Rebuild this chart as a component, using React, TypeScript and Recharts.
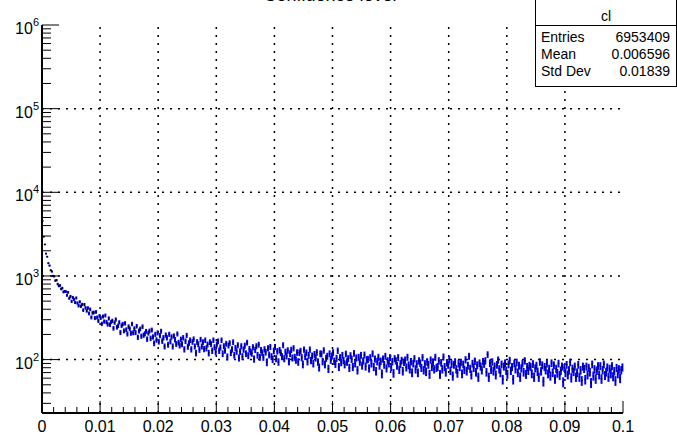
import { ScatterChart, Scatter, XAxis, YAxis, ErrorBar, ReferenceLine } from 'recharts';

const BIN_WIDTH = 0.0002;

// counts per bin (bins of 0.0002 from 0 to 0.1)
const counts = [
  4550, 2950, 2380, 1850, 1700, 1420, 1330, 1170, 1130, 1000,
  990, 880, 890, 800, 760, 770, 700, 715, 645, 655,
  651, 587, 637, 541, 571, 497, 554, 525, 483, 546,
  475, 441, 491, 435, 456, 391, 455, 416, 383, 414,
  357, 399, 320, 363, 366, 314, 372, 319, 291, 332,
  315, 268, 328, 285, 337, 282, 264, 311, 262, 282,
  291, 237, 277, 302, 244, 254, 279, 211, 255, 266,
  221, 272, 228, 203, 248, 234, 207, 267, 210, 235,
  211, 251, 185, 220, 233, 191, 248, 196, 204, 218,
  176, 208, 220, 180, 226, 187, 157, 201, 172, 209,
  164, 194, 219, 167, 183, 144, 197, 183, 151, 201,
  165, 187, 144, 192, 173, 154, 203, 160, 148, 175,
  153, 183, 133, 166, 195, 143, 158, 171, 133, 163,
  176, 144, 120, 163, 153, 132, 174, 144, 162, 134,
  171, 137, 152, 120, 162, 154, 128, 171, 141, 124,
  153, 166, 128, 140, 171, 118, 145, 129, 155, 108,
  148, 158, 121, 133, 162, 113, 138, 125, 149, 105,
  125, 145, 109, 132, 147, 118, 160, 112, 134, 124,
  119, 141, 102, 131, 145, 113, 151, 107, 130, 121,
  107, 133, 123, 93, 137, 114, 142, 109, 101, 127,
  142, 103, 126, 94, 130, 121, 109, 149, 103, 124,
  111, 129, 95, 118, 131, 105, 137, 107, 99, 122,
  94, 121, 127, 106, 88, 132, 109, 121, 95, 113,
  132, 98, 111, 90, 116, 105, 122, 94, 81, 118,
  117, 95, 129, 88, 104, 110, 78, 118, 99, 111,
  122, 96, 89, 104, 128, 82, 106, 93, 113, 98,
  88, 117, 94, 103, 80, 112, 101, 82, 119, 90,
  105, 75, 107, 94, 113, 85, 97, 114, 83, 100,
  101, 79, 106, 90, 118, 82, 102, 73, 95, 107,
  85, 96, 68, 102, 87, 110, 79, 97, 90, 106,
  82, 95, 69, 103, 97, 85, 106, 76, 89, 98,
  73, 93, 99, 81, 107, 86, 77, 95, 70, 90,
  103, 77, 89, 70, 97, 91, 80, 106, 75, 89,
  72, 94, 87, 67, 99, 82, 94, 77, 107, 80,
  82, 97, 67, 92, 77, 108, 82, 71, 92, 87,
  101, 74, 89, 64, 87, 94, 77, 69, 90, 82,
  93, 68, 88, 76, 100, 73, 85, 110, 78, 66,
  90, 80, 96, 71, 86, 62, 91, 83, 75, 95,
  89, 97, 71, 115, 62, 91, 76, 94, 73, 83,
  66, 87, 99, 77, 70, 88, 58, 83, 91, 74,
  67, 88, 98, 74, 82, 58, 90, 77, 93, 70,
  85, 62, 79, 90, 71, 97, 67, 82, 74, 85,
  82, 68, 89, 62, 79, 85, 72, 62, 94, 73,
  86, 55, 82, 75, 90, 68, 78, 64, 91, 70,
  86, 59, 78, 69, 90, 65, 74, 83, 54, 80,
  70, 87, 66, 75, 93, 61, 78, 72, 83, 62,
  70, 87, 62, 75, 56, 83, 78, 58, 83, 66,
  80, 71, 53, 88, 64, 77, 59, 74, 84, 66,
  84, 59, 75, 88, 65, 71, 81, 62, 78, 68,
  84, 63, 73, 56, 80, 68, 77, 60, 75, 81,
];

const xMajorTicks = [0, 0.01, 0.02, 0.03, 0.04, 0.05, 0.06, 0.07, 0.08, 0.09, 0.1];
const xTickLabels = ['0', '0.01', '0.02', '0.03', '0.04', '0.05', '0.06', '0.07', '0.08', '0.09', '0.1'];
const yDecades = [100, 1000, 10000, 100000, 1000000];
const Y_MIN = 23;
const Y_MAX = 1000000;

const statsTitle = 'cl';
const statsRows = [
  ['Entries', '6953409'],
  ['Mean', '0.006596'],
  ['Std Dev', '0.01839'],
];
const title = 'Confidence level';

const FONT = '"Liberation Sans", Arial, Helvetica, sans-serif';

const points = counts.map((c, i) => ({ x: (i + 0.5) * BIN_WIDTH, y: c, err: Math.sqrt(c) }));

const xAllTicks: number[] = [];
for (let i = 0; i <= 50; i++) xAllTicks.push(Math.round(i * 2) / 1000);

const yAllTicks: number[] = [];
[10, 100, 1000, 10000, 100000].forEach((d) => {
  for (let k = 1; k <= 9; k++) {
    const v = k * d;
    if (v >= Y_MIN && v <= Y_MAX) yAllTicks.push(v);
  }
});
yAllTicks.push(Y_MAX);

const isXMajor = (v: number) => xMajorTicks.some((t) => Math.abs(t - v) < 1e-9);
const isYMajor = (v: number) => yDecades.includes(v);

const BottomTick = (props: any) => {
  const { x, y, payload } = props;
  const v = payload.value;
  const major = isXMajor(v);
  const idx = xMajorTicks.findIndex((t) => Math.abs(t - v) < 1e-9);
  return (
    <g>
      <line x1={x} y1={y} x2={x} y2={y - (major ? 12 : 6)} stroke="#000" strokeWidth={1} />
      {major && (
        <text x={x} y={y + 19} textAnchor="middle" fontSize={16} fontFamily={FONT} fill="#000">
          {xTickLabels[idx]}
        </text>
      )}
    </g>
  );
};

const TopTick = (props: any) => {
  const { x, y, payload } = props;
  const major = isXMajor(payload.value);
  return <line x1={x} y1={y} x2={x} y2={y + (major ? 12 : 6)} stroke="#000" strokeWidth={1} />;
};

const LeftTick = (props: any) => {
  const { x, y, payload } = props;
  const v = payload.value;
  const major = isYMajor(v);
  return (
    <g>
      <line x1={x} y1={y} x2={x + (major ? 17 : 9)} y2={y} stroke="#000" strokeWidth={1} />
      {major && (
        <text x={x - 3} y={y + 9} textAnchor="end" fontSize={16} fontFamily={FONT} fill="#000">
          10
          <tspan dy={-8} fontSize={11}>
            {Math.round(Math.log10(v))}
          </tspan>
        </text>
      )}
    </g>
  );
};

const RightTick = (props: any) => {
  const { x, y, payload } = props;
  const major = isYMajor(payload.value);
  return <line x1={x} y1={y} x2={x - (major ? 17 : 9)} y2={y} stroke="#000" strokeWidth={1} />;
};

const Marker = (props: any) => {
  const { cx, cy } = props;
  return <rect x={cx - 0.75} y={cy - 0.75} width={1.5} height={1.5} fill="#000" />;
};

const axisLine = { stroke: '#000', strokeWidth: 2 };

export default function App() {
  return (
    <div style={{ position: 'absolute', left: 0, top: 0, width: 677, height: 435, overflow: 'hidden', background: '#fff' }}>
      <ScatterChart width={677} height={435} margin={{ top: 25, right: 54, bottom: 0, left: 0 }}>
        <XAxis
          xAxisId={0}
          dataKey="x"
          type="number"
          domain={[0, 0.1]}
          allowDataOverflow
          ticks={xAllTicks}
          interval={0}
          tick={<BottomTick />}
          tickLine={false}
          tickSize={0}
          tickMargin={0}
          height={22}
          axisLine={axisLine}
        />
        <XAxis
          xAxisId="top"
          orientation="top"
          type="number"
          domain={[0, 0.1]}
          allowDataOverflow
          ticks={xAllTicks}
          interval={0}
          tick={<TopTick />}
          tickLine={false}
          tickSize={0}
          tickMargin={0}
          height={0}
          axisLine={axisLine}
        />
        <YAxis
          yAxisId={0}
          dataKey="y"
          type="number"
          scale="log"
          domain={[Y_MIN, Y_MAX]}
          allowDataOverflow
          ticks={yAllTicks}
          interval={0}
          tick={<LeftTick />}
          tickLine={false}
          tickSize={0}
          tickMargin={0}
          width={42}
          axisLine={axisLine}
        />
        <YAxis
          yAxisId="right"
          orientation="right"
          type="number"
          scale="log"
          domain={[Y_MIN, Y_MAX]}
          allowDataOverflow
          ticks={yAllTicks}
          interval={0}
          tick={<RightTick />}
          tickLine={false}
          tickSize={0}
          tickMargin={0}
          width={0}
          axisLine={axisLine}
        />
        {xMajorTicks.slice(1, -1).map((v) => (
          <ReferenceLine key={'gx' + v} x={v} stroke="#000" strokeWidth={1.5} strokeDasharray="2 6" />
        ))}
        {yDecades.slice(0, -1).map((v) => (
          <ReferenceLine key={'gy' + v} y={v} stroke="#000" strokeWidth={1.5} strokeDasharray="2 6" />
        ))}
        <Scatter data={points} shape={<Marker />} isAnimationActive={false}>
          <ErrorBar dataKey="err" direction="y" width={0} stroke="#0000ff" strokeWidth={2} />
        </Scatter>
      </ScatterChart>
      <svg width={677} height={435} style={{ position: 'absolute', left: 0, top: 0, pointerEvents: 'none' }}>
        <text x={330} y={1} textAnchor="middle" fontSize={18} fontFamily={FONT} fill="#000">
          {title}
        </text>
        <rect x={535.5} y={-1} width={141} height={87.5} fill="#fff" stroke="#000" strokeWidth={1} />
        <line x1={535} y1={25.5} x2={677} y2={25.5} stroke="#000" strokeWidth={1} />
        <text x={606} y={21} textAnchor="middle" fontSize={14} fontFamily={FONT} fill="#000">
          {statsTitle}
        </text>
        {statsRows.map((r, i) => (
          <g key={r[0]}>
            <text x={541} y={42 + i * 17} fontSize={14} fontFamily={FONT} fill="#000">
              {r[0]}
            </text>
            <text x={670} y={42 + i * 17} textAnchor="end" fontSize={14} fontFamily={FONT} fill="#000">
              {r[1]}
            </text>
          </g>
        ))}
      </svg>
    </div>
  );
}
